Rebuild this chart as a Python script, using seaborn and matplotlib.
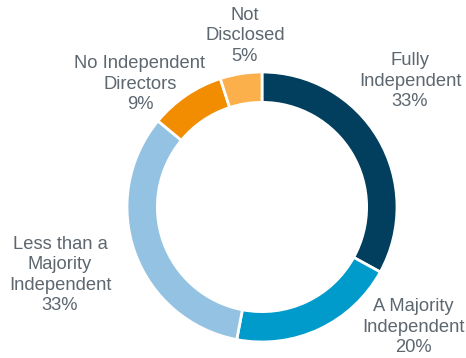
import matplotlib
matplotlib.use("Agg")
import matplotlib.pyplot as plt
import seaborn as sns

# Board independence breakdown
categories = ["Fully\nIndependent", "A Majority\nIndependent", "Less than a\nMajority\nIndependent",
              "No Independent\nDirectors", "Not\nDisclosed"]
shares = [33, 20, 33, 9, 5]
colors = ["#023f5e", "#009bcb", "#93c2e2", "#f28c00", "#fbb04b"]

sns.set_theme(style="white")
plt.rcParams["font.family"] = ["Liberation Sans", "DejaVu Sans"]

W, H, DPI = 466, 358, 100
fig = plt.figure(figsize=(W / DPI, H / DPI), dpi=DPI)
cx, cy, r = 262, 207, 135
ax = fig.add_axes([(cx - r) / W, (H - cy - r) / H, 2 * r / W, 2 * r / H])

palette = sns.color_palette(colors)
wedges, _ = ax.pie(shares, colors=palette, startangle=90, counterclock=False, radius=1.0,
                   wedgeprops=dict(width=0.225, edgecolor="white", linewidth=2.0))
ax.set_xlim(-1, 1)
ax.set_ylim(-1, 1)
ax.set_aspect("equal")
ax.axis("off")

# label anchors in data units around the ring
label_pos = [(1.096, 0.933), (1.119, -0.889), (-1.496, -0.504), (-0.904, 0.911), (-0.126, 1.267)]
for name, val, (x, y) in zip(categories, shares, label_pos):
    ax.text(x, y, f"{name}\n{val}%", ha="center", va="center", fontsize=13.2,
            color="#5d6770", linespacing=1.27, clip_on=False)

fig.savefig("out.png", dpi=DPI)
